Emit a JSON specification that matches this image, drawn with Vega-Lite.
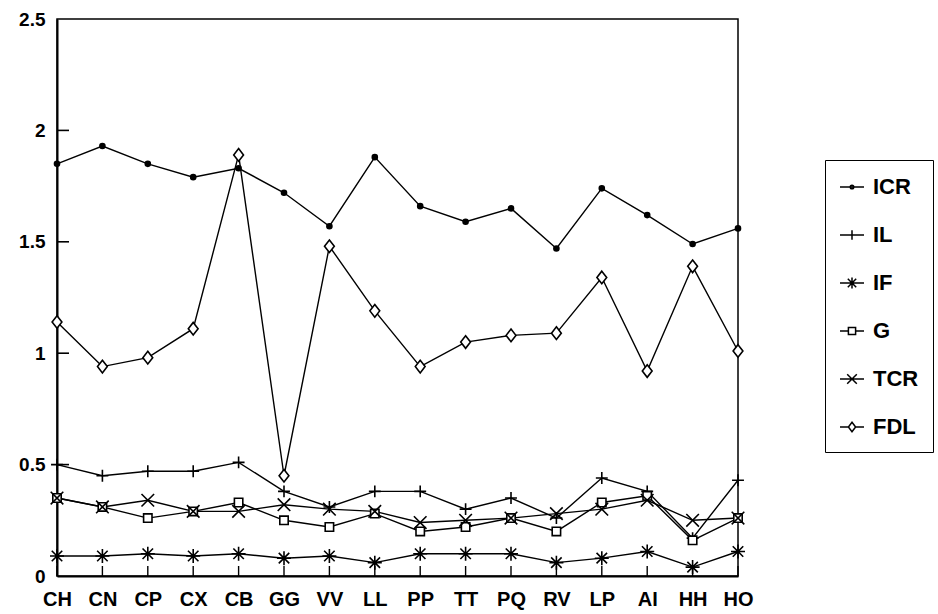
{
  "$schema": "https://vega.github.io/schema/vega-lite/v6.json",
  "autosize": {"type": "none"},
  "padding": {"left": 57, "top": 19, "right": 200, "bottom": 38},
  "width": 681,
  "height": 557,
  "background": "white",
  "config": {
    "view": {"stroke": "black", "strokeWidth": 1.5},
    "font": "Liberation Sans"
  },
  "datasets": {
    "rows": [
      {"series": "ICR", "cat": "CH", "value": 1.85}, {"series": "ICR", "cat": "CN", "value": 1.93}, {"series": "ICR", "cat": "CP", "value": 1.85}, {"series": "ICR", "cat": "CX", "value": 1.79}, {"series": "ICR", "cat": "CB", "value": 1.83}, {"series": "ICR", "cat": "GG", "value": 1.72}, {"series": "ICR", "cat": "VV", "value": 1.57}, {"series": "ICR", "cat": "LL", "value": 1.88}, {"series": "ICR", "cat": "PP", "value": 1.66}, {"series": "ICR", "cat": "TT", "value": 1.59}, {"series": "ICR", "cat": "PQ", "value": 1.65}, {"series": "ICR", "cat": "RV", "value": 1.47}, {"series": "ICR", "cat": "LP", "value": 1.74}, {"series": "ICR", "cat": "AI", "value": 1.62}, {"series": "ICR", "cat": "HH", "value": 1.49}, {"series": "ICR", "cat": "HO", "value": 1.56},
      {"series": "IL", "cat": "CH", "value": 0.50}, {"series": "IL", "cat": "CN", "value": 0.45}, {"series": "IL", "cat": "CP", "value": 0.47}, {"series": "IL", "cat": "CX", "value": 0.47}, {"series": "IL", "cat": "CB", "value": 0.51}, {"series": "IL", "cat": "GG", "value": 0.38}, {"series": "IL", "cat": "VV", "value": 0.31}, {"series": "IL", "cat": "LL", "value": 0.38}, {"series": "IL", "cat": "PP", "value": 0.38}, {"series": "IL", "cat": "TT", "value": 0.30}, {"series": "IL", "cat": "PQ", "value": 0.35}, {"series": "IL", "cat": "RV", "value": 0.26}, {"series": "IL", "cat": "LP", "value": 0.44}, {"series": "IL", "cat": "AI", "value": 0.38}, {"series": "IL", "cat": "HH", "value": 0.17}, {"series": "IL", "cat": "HO", "value": 0.43},
      {"series": "IF", "cat": "CH", "value": 0.09}, {"series": "IF", "cat": "CN", "value": 0.09}, {"series": "IF", "cat": "CP", "value": 0.10}, {"series": "IF", "cat": "CX", "value": 0.09}, {"series": "IF", "cat": "CB", "value": 0.10}, {"series": "IF", "cat": "GG", "value": 0.08}, {"series": "IF", "cat": "VV", "value": 0.09}, {"series": "IF", "cat": "LL", "value": 0.06}, {"series": "IF", "cat": "PP", "value": 0.10}, {"series": "IF", "cat": "TT", "value": 0.10}, {"series": "IF", "cat": "PQ", "value": 0.10}, {"series": "IF", "cat": "RV", "value": 0.06}, {"series": "IF", "cat": "LP", "value": 0.08}, {"series": "IF", "cat": "AI", "value": 0.11}, {"series": "IF", "cat": "HH", "value": 0.04}, {"series": "IF", "cat": "HO", "value": 0.11},
      {"series": "G", "cat": "CH", "value": 0.35}, {"series": "G", "cat": "CN", "value": 0.31}, {"series": "G", "cat": "CP", "value": 0.26}, {"series": "G", "cat": "CX", "value": 0.29}, {"series": "G", "cat": "CB", "value": 0.33}, {"series": "G", "cat": "GG", "value": 0.25}, {"series": "G", "cat": "VV", "value": 0.22}, {"series": "G", "cat": "LL", "value": 0.28}, {"series": "G", "cat": "PP", "value": 0.20}, {"series": "G", "cat": "TT", "value": 0.22}, {"series": "G", "cat": "PQ", "value": 0.26}, {"series": "G", "cat": "RV", "value": 0.20}, {"series": "G", "cat": "LP", "value": 0.33}, {"series": "G", "cat": "AI", "value": 0.36}, {"series": "G", "cat": "HH", "value": 0.16}, {"series": "G", "cat": "HO", "value": 0.26},
      {"series": "TCR", "cat": "CH", "value": 0.35}, {"series": "TCR", "cat": "CN", "value": 0.31}, {"series": "TCR", "cat": "CP", "value": 0.34}, {"series": "TCR", "cat": "CX", "value": 0.29}, {"series": "TCR", "cat": "CB", "value": 0.29}, {"series": "TCR", "cat": "GG", "value": 0.32}, {"series": "TCR", "cat": "VV", "value": 0.30}, {"series": "TCR", "cat": "LL", "value": 0.29}, {"series": "TCR", "cat": "PP", "value": 0.24}, {"series": "TCR", "cat": "TT", "value": 0.25}, {"series": "TCR", "cat": "PQ", "value": 0.26}, {"series": "TCR", "cat": "RV", "value": 0.28}, {"series": "TCR", "cat": "LP", "value": 0.30}, {"series": "TCR", "cat": "AI", "value": 0.34}, {"series": "TCR", "cat": "HH", "value": 0.25}, {"series": "TCR", "cat": "HO", "value": 0.26},
      {"series": "FDL", "cat": "CH", "value": 1.14}, {"series": "FDL", "cat": "CN", "value": 0.94}, {"series": "FDL", "cat": "CP", "value": 0.98}, {"series": "FDL", "cat": "CX", "value": 1.11}, {"series": "FDL", "cat": "CB", "value": 1.89}, {"series": "FDL", "cat": "GG", "value": 0.45}, {"series": "FDL", "cat": "VV", "value": 1.48}, {"series": "FDL", "cat": "LL", "value": 1.19}, {"series": "FDL", "cat": "PP", "value": 0.94}, {"series": "FDL", "cat": "TT", "value": 1.05}, {"series": "FDL", "cat": "PQ", "value": 1.08}, {"series": "FDL", "cat": "RV", "value": 1.09}, {"series": "FDL", "cat": "LP", "value": 1.34}, {"series": "FDL", "cat": "AI", "value": 0.92}, {"series": "FDL", "cat": "HH", "value": 1.39}, {"series": "FDL", "cat": "HO", "value": 1.01}
    ],
    "yticks": [
      {"cat": "CH", "value": 0.5}, {"cat": "CH", "value": 1}, {"cat": "CH", "value": 1.5}, {"cat": "CH", "value": 2}
    ],
    "xticks": [
      {"cat": "CH", "value": 0}, {"cat": "CN", "value": 0}, {"cat": "CP", "value": 0}, {"cat": "CX", "value": 0}, {"cat": "CB", "value": 0}, {"cat": "GG", "value": 0}, {"cat": "VV", "value": 0}, {"cat": "LL", "value": 0}, {"cat": "PP", "value": 0}, {"cat": "TT", "value": 0}, {"cat": "PQ", "value": 0}, {"cat": "RV", "value": 0}, {"cat": "LP", "value": 0}, {"cat": "AI", "value": 0}, {"cat": "HH", "value": 0}, {"cat": "HO", "value": 0}
    ]
  },
  "data": {"name": "rows"},
  "encoding": {
    "x": {
      "field": "cat", "type": "nominal", "sort": null,
      "scale": {"type": "point", "padding": 0, "domain": ["CH","CN","CP","CX","CB","GG","VV","LL","PP","TT","PQ","RV","LP","AI","HH","HO"]},
      "axis": {
        "title": null, "labelAngle": 0, "domainColor": "black", "domainWidth": 2, "ticks": false,
        "labelPadding": 13, "labelFont": "Liberation Sans", "labelFontWeight": "bold", "labelFontSize": 20, "labelColor": "black"
      }
    },
    "y": {
      "field": "value", "type": "quantitative",
      "scale": {"domain": [0, 2.5], "nice": false, "zero": true},
      "axis": {
        "title": null, "values": [0, 0.5, 1, 1.5, 2, 2.5], "format": "~g", "grid": false,
        "domainColor": "black", "domainWidth": 2, "ticks": false,
        "labelPadding": 12, "labelFont": "Liberation Sans", "labelFontWeight": "bold", "labelFontSize": 19, "labelColor": "black"
      }
    }
  },
  "layer": [
    {
      "data": {"name": "yticks"},
      "mark": {"type": "tick", "orient": "horizontal", "color": "black", "size": 12, "thickness": 1.6, "xOffset": 6, "opacity": 1}
    },
    {
      "data": {"name": "xticks"},
      "mark": {"type": "tick", "orient": "vertical", "color": "black", "size": 10, "thickness": 1.4, "yOffset": -5, "opacity": 1}
    },
    {
      "mark": {"type": "line", "color": "black", "strokeWidth": 1.4},
      "encoding": {"detail": {"field": "series"}}
    },
    {
      "mark": {"type": "point", "stroke": "black", "strokeWidth": 1.6, "opacity": 1, "size": 196},
      "encoding": {
        "shape": {
          "field": "series", "type": "nominal",
          "scale": {
            "domain": ["ICR", "IL", "IF", "G", "TCR", "FDL"],
            "range": [
              "M-0.36,0A0.36,0.36,0,1,0,0.36,0A0.36,0.36,0,1,0,-0.36,0Z",
              "M-0.85,0H0.85M0,-0.85V0.85",
              "M-1,0H1M0,-1V1M-0.75,-0.75L0.75,0.75M-0.75,0.75L0.75,-0.75",
              "M-0.6,-0.6H0.6V0.6H-0.6Z",
              "M-0.9,-0.9L0.9,0.9M-0.9,0.9L0.9,-0.9",
              "M0,-0.9L0.7,0L0,0.9L-0.7,0Z"
            ]
          },
          "legend": null
        },
        "fill": {
          "field": "series", "type": "nominal",
          "scale": {"domain": ["ICR", "IL", "IF", "G", "TCR", "FDL"], "range": ["black", "white", "white", "white", "white", "white"]},
          "legend": null
        }
      }
    },
    {
      "mark": {"type": "point", "opacity": 0, "filled": false},
      "encoding": {
        "shape": {
          "field": "series", "type": "nominal",
          "scale": {
            "domain": ["ICR", "IL", "IF", "G", "TCR", "FDL"],
            "range": [
              "M-1,0H1M-0.15,0A0.15,0.15,0,1,0,0.15,0A0.15,0.15,0,1,0,-0.15,0Z",
              "M-1,0H1M0,-0.4V0.4",
              "M-1,0H1M0,-0.45V0.45M-0.35,-0.35L0.35,0.35M-0.35,0.35L0.35,-0.35",
              "M-1,0H-0.3M0.3,0H1M-0.3,-0.3H0.3V0.3H-0.3Z",
              "M-1,0H1M-0.4,-0.4L0.4,0.4M-0.4,0.4L0.4,-0.4",
              "M-1,0H-0.3M0.3,0H1M0,-0.4L0.3,0L0,0.4L-0.3,0Z"
            ]
          },
          "legend": {
            "title": null, "orient": "none", "legendX": 768, "legendY": 141,
            "strokeColor": "black", "padding": 14, "rowPadding": 24,
            "symbolSize": 576, "symbolOpacity": 1, "symbolStrokeColor": "black", "symbolStrokeWidth": 1.5,
            "symbolFillColor": "transparent", "labelOffset": 8,
            "labelFont": "Liberation Sans", "labelFontWeight": "bold", "labelFontSize": 22, "labelColor": "black"
          }
        }
      }
    }
  ],
  "resolve": {
    "scale": {"shape": "independent"},
    "legend": {"shape": "independent"}
  }
}
